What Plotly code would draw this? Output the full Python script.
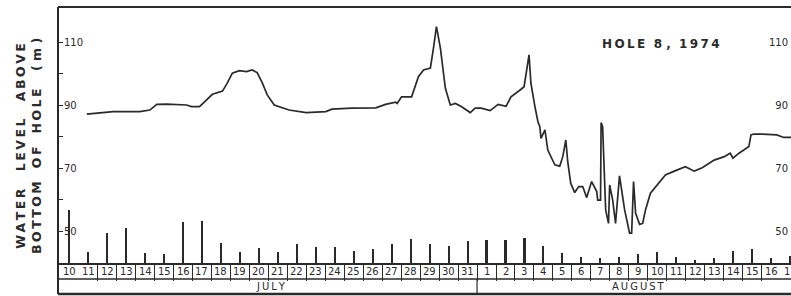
import plotly.graph_objects as go

# Time axis: days since 10 July 1974 00:00
day_labels = [str(d) for d in range(10, 32)] + [str(d) for d in range(1, 18)]
months = ["JULY", "AUGUST"]
month_centers = [11.15, 30.5]

# Water level above bottom of hole (m)
t_days = [1.43, 2.12, 2.81, 4.22, 4.75, 5.12, 5.64, 6.69, 6.95, 7.37, 7.74, 8.05, 8.58, 8.84,
          9.10, 9.47, 9.84, 10.15, 10.41, 10.68, 10.94, 11.31, 12.09, 12.99, 14.03, 14.35,
          15.40, 16.66, 17.18, 17.71, 17.79, 18.02, 18.55, 18.91, 19.18, 19.54, 19.70, 19.86,
          20.07, 20.33, 20.59, 20.86, 21.17, 21.64, 21.90, 22.22, 22.69, 23.11, 23.53, 23.79,
          24.32, 24.48, 24.74, 24.84, 25.05, 25.21, 25.31, 25.37, 25.58, 25.73, 26.10, 26.36,
          26.52, 26.68, 26.78, 26.94, 27.15, 27.36, 27.57, 27.78, 28.04, 28.31, 28.36, 28.51,
          28.54, 28.62, 28.78, 28.93, 28.99, 29.15, 29.30, 29.51, 29.78, 30.04, 30.15, 30.25,
          30.36, 30.57, 30.73, 30.88, 31.14, 31.51, 31.93, 32.40, 32.98, 33.45, 33.87, 34.50,
          35.03, 35.34, 35.49, 35.81, 36.33, 36.44, 36.59, 37.28, 37.80, 38.17, 38.60]
level = [87.1, 87.6, 87.9, 87.9, 88.4, 90.2, 90.3, 90.0, 89.5, 89.5, 91.6, 93.4, 94.4, 97.0,
         100.1, 100.9, 100.6, 101.1, 100.3, 97.0, 93.2, 90.0, 88.4, 87.6, 87.9, 88.7,
         89.0, 89.1, 90.2, 90.9, 90.5, 92.6, 92.6, 99.0, 101.1, 101.7, 108.0, 114.9,
         108.0, 95.3, 90.0, 90.5, 89.5, 87.6, 89.0, 89.0, 88.2, 90.2, 89.6, 92.6,
         95.0, 95.8, 105.9, 96.9, 89.5, 84.7, 83.1, 79.4, 82.1, 75.7, 71.0, 70.6,
         73.6, 78.9, 72.0, 65.1, 62.2, 64.1, 64.1, 60.6, 65.7, 62.5, 59.8, 59.8,
         84.4, 83.1, 56.7, 52.4, 64.6, 59.8, 52.4, 67.5, 56.7, 49.3, 49.3, 65.7,
         55.6, 52.1, 52.4, 56.7, 62.0, 64.6, 67.8, 69.0, 70.4, 69.0, 70.1, 72.5,
         73.6, 74.7, 73.1, 74.7, 76.8, 80.5, 80.8, 80.7, 80.5, 79.7, 79.7]

# Daily bars (relative units, unlabeled in original)
daily = [53, 11, 30, 35, 10, 9, 41, 42, 20, 11, 15, 11, 19, 16, 16, 12, 14, 19, 24, 19, 17, 22,
         23, 23, 25, 17, 10, 6, 5, 6, 9, 11, 6, 3, 5, 12, 14, 5, 7]

y_ticks = [50, 60, 70, 80, 90, 100, 110]
y_ticklabels = ["50", "", "70", "", "90", "", "110"]
y_right_ticks = [50, 70, 90, 110]

INK = "#2a2a2a"
FONT = "DejaVu Sans"


def spaced(s):
    return "\u2009".join(s)


cell_centers = [i + 0.5 for i in range(len(day_labels))]

fig = go.Figure()
fig.add_trace(go.Bar(x=cell_centers, y=daily, width=0.11, marker=dict(color=INK, line=dict(width=0)),
                     yaxis="y2", showlegend=False, hoverinfo="skip"))
fig.add_trace(go.Scatter(x=t_days, y=level, mode="lines", line=dict(color=INK, width=1.7),
                         showlegend=False))
# invisible trace to activate right axis
fig.add_trace(go.Scatter(x=[t_days[0]], y=[level[0]], yaxis="y3", mode="lines",
                         line=dict(width=0), showlegend=False, hoverinfo="skip"))

H = 296
plot_h = H - 7 - 2
main_bottom = (294 - 263) / plot_h
row_div = (294 - 279) / plot_h
yr = [39.84, 121.11]

fig.update_layout(
    width=791, height=H,
    margin=dict(l=58, r=0, t=7, b=2, autoexpand=False),
    paper_bgcolor="white", plot_bgcolor="white",
    bargap=0,
    font=dict(family=FONT, color=INK),
    xaxis=dict(range=[-0.09, 38.55], showgrid=False, zeroline=False, automargin=False,
               showline=True, linecolor=INK, linewidth=1.5,
               tickmode="array", tickvals=list(range(0, 40)), showticklabels=False,
               ticks="outside", ticklen=16, tickwidth=1.2, tickcolor=INK),
    yaxis=dict(domain=[main_bottom, 1], range=yr, showgrid=False, zeroline=False, automargin=False,
               showline=False, tickmode="array", tickvals=y_ticks, ticktext=y_ticklabels,
               ticks="inside", ticklen=5, tickwidth=1.3, tickcolor=INK,
               ticklabelposition="inside", tickfont=dict(size=10, color=INK, family=FONT)),
    yaxis2=dict(overlaying="y", range=[0, 256], visible=False, automargin=False),
    yaxis3=dict(overlaying="y", side="right", range=yr, showgrid=False, zeroline=False,
                automargin=False,
                showline=False, tickmode="array", tickvals=y_right_ticks,
                ticks="", ticklabelposition="inside",
                tickfont=dict(size=10, color=INK, family=FONT)),
)

shapes = [
    dict(type="line", xref="paper", yref="paper", x0=0, x1=0, y0=0, y1=1,
         line=dict(color=INK, width=2)),
    dict(type="line", xref="paper", yref="paper", x0=0, x1=1, y0=1, y1=1,
         line=dict(color=INK, width=2)),
    dict(type="line", xref="paper", yref="paper", x0=0, x1=1, y0=0, y1=0,
         line=dict(color=INK, width=2.5)),
    dict(type="line", xref="paper", yref="paper", x0=0, x1=1, y0=row_div, y1=row_div,
         line=dict(color=INK, width=1.3)),
    dict(type="line", xref="x", yref="paper", x0=22, x1=22, y0=0, y1=row_div,
         line=dict(color=INK, width=1.2)),
]
fig.update_layout(shapes=shapes)

annotations = [
    dict(text="<b>" + spaced("HOLE") + "  8 ,  " + spaced("1974") + "</b>", xref="paper", yref="paper",
         x=(661 - 58) / 733, y=(294 - 44) / plot_h, showarrow=False, xanchor="center",
         yanchor="middle", font=dict(size=12, color=INK, family=FONT)),
    dict(text="<b>" + spaced("WATER") + "    " + spaced("LEVEL") + "    " + spaced("ABOVE") + "<br>" +
         spaced("BOTTOM") + "   " + spaced("OF") + "   " + spaced("HOLE") + "    ( m )</b>",
         xref="paper", yref="paper", x=(28 - 58) / 733, y=(294 - 146) / plot_h,
         textangle=-90, showarrow=False, align="center",
         font=dict(size=12.5, color=INK, family=FONT), xanchor="center", yanchor="middle"),
]
day_row_mid = (row_div + main_bottom) / 2
for lab, c in zip(day_labels, cell_centers):
    annotations.append(dict(text=lab, xref="x", yref="paper", x=c, y=day_row_mid,
                            showarrow=False, xanchor="center", yanchor="middle",
                            font=dict(size=10, color=INK, family=FONT)))
for m, c in zip(months, month_centers):
    annotations.append(dict(text=spaced(m), xref="x", yref="paper", x=c, y=row_div / 2,
                            showarrow=False, xanchor="center", yanchor="middle",
                            font=dict(size=10, color=INK, family=FONT)))
fig.update_layout(annotations=annotations)

fig.write_html("out.html", config={"displayModeBar": False},
               post_script="document.body.style.margin='0';")
